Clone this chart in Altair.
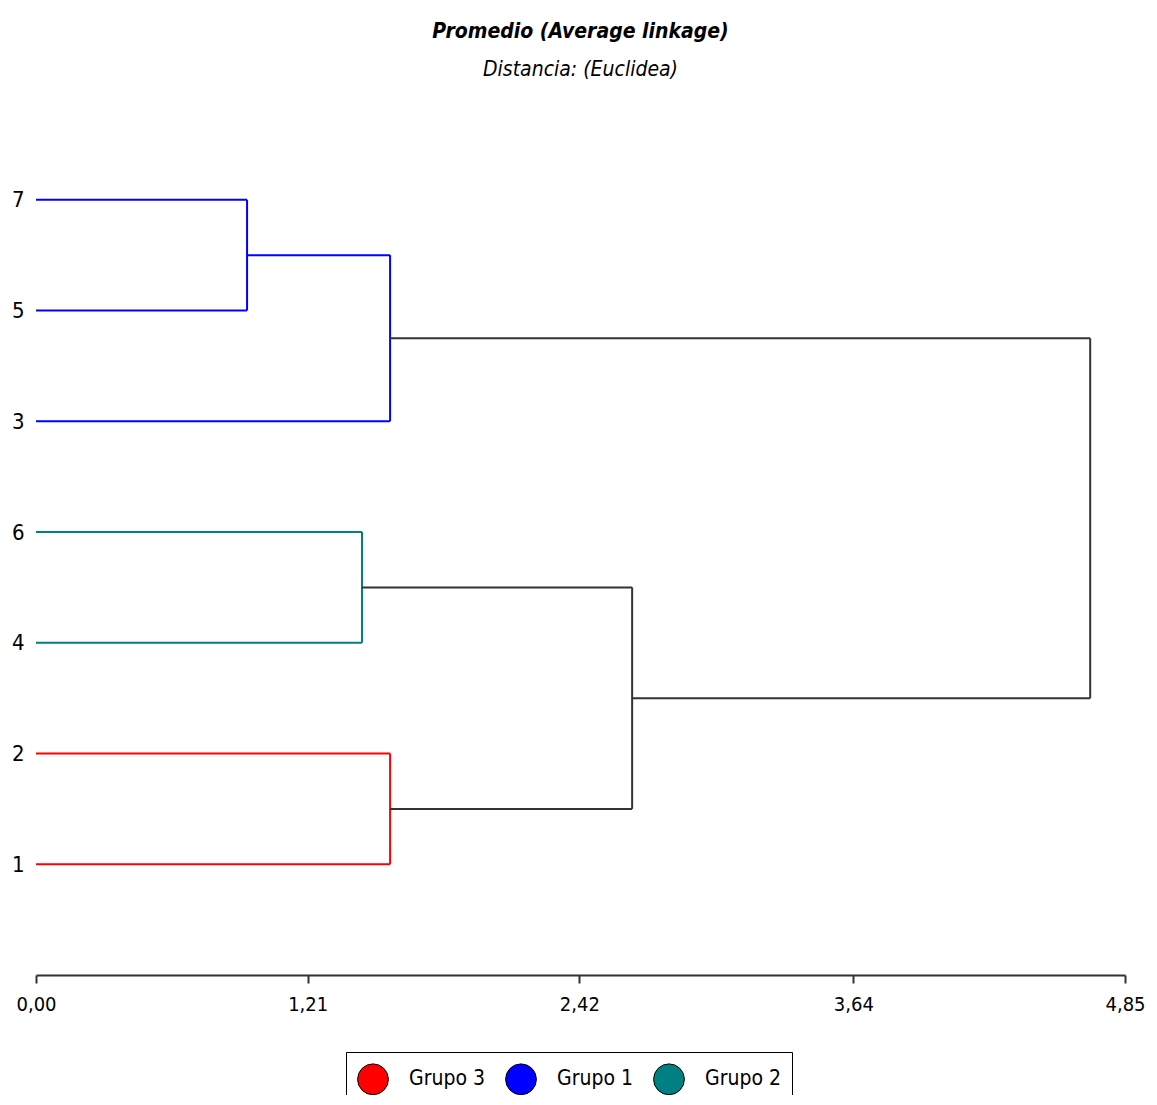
import altair as alt
import pandas as pd

# ---- data ----
leaf_labels = ["7", "5", "3", "6", "4", "2", "1"]          # top to bottom
leaf_groups = ["Grupo 1", "Grupo 1", "Grupo 1", "Grupo 2", "Grupo 2", "Grupo 3", "Grupo 3"]
# merges: node ids 0..6 are leaves, merges get ids 7..12
merge_left = [0, 7, 3, 5, 9, 8]
merge_right = [1, 2, 4, 6, 10, 11]
merge_height = [0.94, 1.577, 1.452, 1.577, 2.655, 4.695]
merge_group = ["Grupo 1", "Grupo 1", "Grupo 2", "Grupo 3", "", ""]

legend_groups = ["Grupo 3", "Grupo 1", "Grupo 2"]
legend_colors = ["#FF0000", "#0000FF", "#008080"]
x_ticks = [0.0, 1.21, 2.42, 3.64, 4.85]

group_color = dict(zip(legend_groups, legend_colors))
LINK = "#333333"

# ---- build dendrogram segments ----
n = len(leaf_labels)
node_y = {i: float(n - i) for i in range(n)}
node_h = {i: 0.0 for i in range(n)}
segs = []
for k, (l, r, h, g) in enumerate(zip(merge_left, merge_right, merge_height, merge_group)):
    nid = n + k
    col = group_color.get(g, LINK)
    for c in (l, r):
        segs.append({"x": node_h[c], "x2": h, "y": node_y[c], "y2": node_y[c], "c": col})
    segs.append({"x": h, "x2": h, "y": node_y[l], "y2": node_y[r], "c": col})
    node_y[nid] = (node_y[l] + node_y[r]) / 2
    node_h[nid] = h
seg_df = pd.DataFrame(segs)

FONT = "DejaVu Sans Condensed, Liberation Sans Narrow, Liberation Sans, sans-serif"
label_map = "{" + ",".join(f"'{n - i}':'{lab}'" for i, lab in enumerate(leaf_labels)) + "}"

xscale = alt.Scale(domain=[0, 4.85], nice=False, zero=False)
yscale = alt.Scale(domain=[0, n + 1], nice=False)

lines = alt.Chart(seg_df).mark_rule(strokeWidth=2).encode(
    x=alt.X("x:Q", scale=xscale, title=None,
            axis=alt.Axis(values=x_ticks, grid=False, domainColor=LINK, domainWidth=2,
                          tickColor=LINK, tickWidth=2, tickSize=8, labelPadding=11,
                          labelFont=FONT, labelFontSize=20, labelColor="#000000",
                          labelExpr="replace(format(datum.value, '.2f'), '.', ',')",
                          labelFlush=False)),
    x2="x2:Q",
    y=alt.Y("y:Q", scale=yscale, title=None,
            axis=alt.Axis(values=list(range(1, n + 1)), grid=False, domain=False, ticks=False,
                          labelPadding=12, labelFont=FONT, labelFontSize=22,
                          labelColor="#000000",
                          labelExpr=f"{label_map}[''+datum.value]")),
    y2="y2:Q",
    color=alt.Color("c:N", scale=None),
)

leg_df = pd.DataFrame({"g": legend_groups, "x": [0.0] * 3, "y": [1.0] * 3})
legend_pts = alt.Chart(leg_df).mark_point(filled=True, opacity=0).encode(
    x=alt.X("x:Q", scale=xscale),
    y=alt.Y("y:Q", scale=yscale),
    fill=alt.Fill("g:N", scale=alt.Scale(domain=legend_groups, range=legend_colors),
                  legend=alt.Legend(title=None, orient="none", direction="horizontal",
                                    legendX=310, legendY=963, symbolType="circle",
                                    symbolSize=950, symbolOpacity=1,
                                    symbolStrokeColor="#000000", symbolStrokeWidth=1,
                                    labelFont=FONT, labelFontSize=21, labelColor="#000000",
                                    labelOffset=20, columnPadding=18, padding=11,
                                    strokeColor="#000000", fillColor="#FFFFFF")),
)

chart = alt.layer(lines, legend_pts).properties(
    width=1089, height=886,
    autosize=alt.AutoSizeParams(type="none"),
    padding={"left": 28, "top": 81, "right": 20, "bottom": 120},
    background="#FFFFFF",
    title=alt.TitleParams(
        text="Promedio (Average linkage)",
        subtitle="Distancia: (Euclidea)",
        font=FONT, fontSize=21, fontWeight="bold", fontStyle="italic", color="#000000",
        subtitleFont=FONT, subtitleFontSize=21, subtitleFontStyle="italic",
        subtitleColor="#000000", subtitlePadding=17,
        anchor="middle", offset=9,
    ),
).configure_view(strokeWidth=0, stroke=None)

chart.save("out.html", embed_options={"renderer": "svg", "actions": False})
